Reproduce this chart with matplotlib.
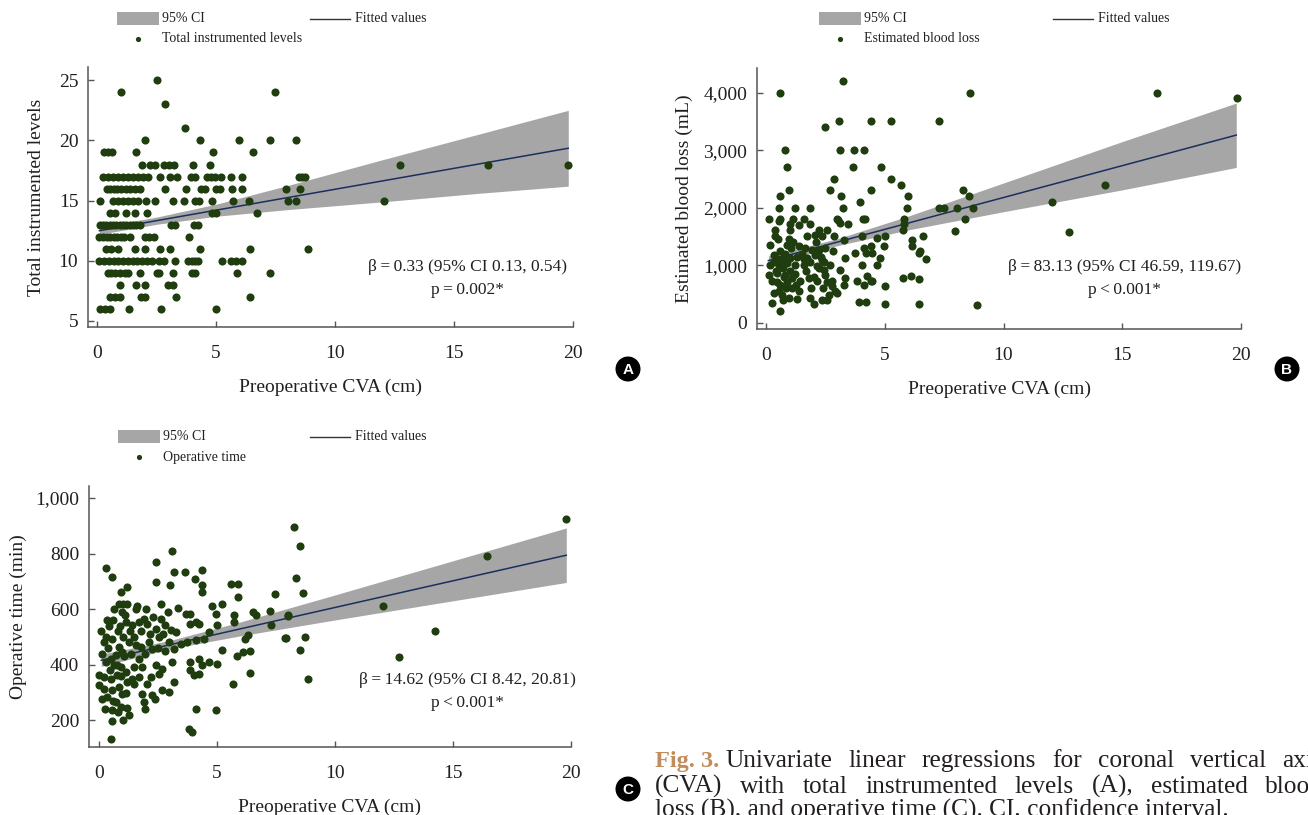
#!/usr/bin/env python3
# Univariate linear regressions of preoperative CVA (three panels + caption)

import numpy as np
import matplotlib.pyplot as plt
from matplotlib.patches import Rectangle, Circle

plt.rcParams['font.family'] = ['Liberation Serif', 'DejaVu Serif']

DOT = '#1f3d0f'
BAND = '#a6a6a6'
LINE = '#1b2f5e'
AXC = '#555555'
TXT = '#231f20'

# ---- Panel A: total instrumented levels (x = CVA cm, grouped by level) ----
a_levels = {
    25: [2.5],
    24: [1.02, 7.46],
    23: [2.84],
    21: [3.68],
    20: [2.0, 4.31, 5.95, 7.26, 8.38],
    19: [0.28, 0.45, 0.62, 1.63, 4.86, 6.57],
    18: [1.87, 2.22, 2.42, 2.82, 3.03, 3.24, 4.03, 4.76, 12.73, 16.43, 19.77],
    17: [0.25, 0.46, 0.67, 0.88, 1.09, 1.30, 1.51, 1.72, 1.93, 2.14, 2.63, 3.05,
         3.38, 3.94, 4.13, 4.61, 4.80, 4.97, 5.2, 5.62, 6.09, 8.5, 8.62, 8.75],
    16: [0.4, 0.55, 0.7, 0.85, 1.0, 1.2, 1.4, 1.6, 1.8, 2.84, 3.75, 4.36, 4.55,
         4.99, 5.18, 5.69, 6.09, 7.95, 8.53],
    15: [0.11, 0.67, 0.88, 1.09, 1.30, 1.51, 1.72, 2.07, 2.42, 3.19, 3.64, 4.1,
         4.29, 4.83, 5.71, 6.39, 8.02, 8.38, 12.04],
    14: [0.53, 0.74, 1.23, 1.61, 2.11, 4.83, 5.0, 6.72],
    13: [0.11, 0.25, 0.39, 0.53, 0.67, 0.81, 0.95, 1.09, 1.23, 1.37, 1.51, 1.65,
         1.79, 3.12, 3.27, 4.08, 4.24],
    12: [0.1, 0.25, 0.4, 0.55, 0.7, 0.85, 1.0, 1.15, 1.37, 2.0, 2.2, 2.4, 3.87],
    11: [0.39, 0.6, 0.88, 1.61, 2.0, 2.63, 3.05, 4.33, 6.41, 8.86],
    10: [0.1, 0.3, 0.5, 0.7, 0.9, 1.1, 1.3, 1.5, 1.7, 1.9, 2.1, 2.3, 2.6, 2.8,
         3.29, 3.82, 3.97, 4.1, 4.24, 5.27, 5.64, 5.85, 6.1],
    9: [0.46, 0.6, 0.74, 0.95, 1.16, 1.30, 1.82, 2.53, 2.62, 3.2, 3.97, 4.1, 5.9, 7.26],
    8: [0.98, 1.65, 2.0, 2.98, 3.2],
    7: [0.53, 0.74, 0.95, 1.86, 2.0, 3.33, 6.41],
    6: [0.11, 0.32, 0.53, 1.33, 2.7, 5.0],
}
a_x = [x for lvl, xs in a_levels.items() for x in xs]
a_y = [lvl for lvl, xs in a_levels.items() for x in xs]
a_fit_x = [0.1, 19.8]
a_fit_y = [12.5, 19.35]
a_ci_x = [0.1, 2.5, 5, 8, 12, 16, 19.8]
a_ci_lo = [12.2, 13.03, 13.7, 14.25, 14.9, 15.6, 16.2]
a_ci_hi = [12.8, 13.63, 14.7, 16.25, 18.4, 20.5, 22.5]

# ---- Panel B: estimated blood loss (mL) ----
b_pts = [
    (0.6, 4000), (3.24, 4200), (2.47, 3410), (3.06, 3500), (4.44, 3500), (5.27, 3500), (7.28, 3500),
    (0.79, 3000), (3.13, 3000), (3.69, 3000), (4.12, 3000),
    (0.88, 2700), (3.67, 2700), (4.85, 2700), (2.85, 2500), (5.27, 2500), (5.69, 2400),
    (0.96, 2300), (2.71, 2300), (4.44, 2300), (3.17, 2200), (0.6, 2200), (5.97, 2200), (3.97, 2100),
    (0.53, 2000), (1.24, 2000), (1.84, 2000), (3.24, 2000), (5.94, 2000),
    (7.28, 2000), (7.5, 2000), (8.03, 2000), (8.73, 2000), (8.31, 2300), (8.55, 2200),
    (8.59, 4000), (8.38, 1800), (7.96, 1600), (8.87, 300),
    (12.06, 2100), (12.76, 1580), (14.28, 2400), (16.46, 4000), (19.83, 3900),
    (0.11, 1800), (0.6, 1800), (1.15, 1800), (1.59, 1800), (2.99, 1800), (3.05, 1790),
    (4.09, 1800), (4.15, 1800), (5.8, 1800),
    (0.53, 1760), (1.03, 1710), (1.38, 1700), (1.87, 1710), (2.22, 1615), (2.57, 1615),
    (3.1, 1730), (3.44, 1710), (1.03, 1615), (0.39, 1615), (5.76, 1615), (5.81, 1713),
    (0.39, 1500), (1.73, 1500), (2.08, 1530), (2.36, 1500), (2.88, 1500), (3.3, 1440),
    (4.04, 1500), (4.68, 1470), (5.03, 1500), (6.15, 1440), (6.6, 1500),
    (0.18, 1355), (0.88, 1355), (1.38, 1330), (1.66, 1300), (1.94, 1270), (2.22, 1270),
    (2.5, 1300), (2.82, 1240), (4.12, 1300), (4.4, 1330), (4.96, 1330), (6.15, 1330), (6.5, 1240),
    (0.32, 1180), (0.74, 1150), (1.03, 1120), (1.31, 1150), (1.73, 1120), (2.08, 1180),
    (2.36, 1090), (3.34, 1120), (3.76, 1210), (4.19, 1210), (4.47, 1210), (4.82, 1120),
    (0.15, 1000), (0.53, 1000), (0.88, 1040), (1.24, 1000), (1.59, 1000), (2.15, 980),
    (2.43, 920), (3.13, 920), (4.04, 1000), (4.68, 1000), (6.43, 1210), (6.74, 1110),
    (0.11, 830), (0.46, 860), (0.81, 830), (1.1, 780), (1.45, 720), (1.8, 776), (2.15, 720),
    (2.5, 830), (2.78, 720), (3.34, 776), (3.83, 720), (4.26, 805), (4.47, 720), (5.03, 630),
    (5.76, 776), (6.11, 816), (6.46, 764), (0.25, 720), (0.6, 660), (2.78, 640), (4.12, 660), (4.4, 720),
    (0.32, 515), (0.67, 486), (0.96, 428), (1.31, 417), (1.87, 428), (2.0, 324), (2.36, 400),
    (2.57, 400), (2.99, 515), (2.64, 486), (3.9, 359), (4.19, 359), (5.03, 324), (6.46, 324),
    (0.58, 208), (0.25, 341), (2.92, 550), (3.27, 660),
    (0.4, 900), (0.5, 1100), (0.6, 1250), (0.7, 950), (0.75, 800), (0.8, 1200), (0.85, 600),
    (0.9, 700), (1.0, 900), (1.05, 1300), (1.1, 600), (1.2, 850), (0.45, 700), (0.55, 550),
    (0.65, 1050), (0.7, 400), (0.35, 1050), (0.5, 1450), (0.95, 1450), (1.15, 1400),
    (1.5, 1200), (1.6, 1100), (1.7, 900), (1.85, 1050), (1.9, 600), (2.0, 800), (2.1, 1400),
    (2.25, 950), (2.3, 1150), (2.45, 1050), (2.55, 700), (2.7, 1000), (2.4, 600), (1.4, 550),
    (1.25, 650),
]
b_x = [p[0] for p in b_pts]
b_y = [p[1] for p in b_pts]
b_fit_x = [0.1, 19.8]
b_fit_y = [1080, 3263]
b_ci_x = [0.1, 3, 6, 10, 15, 19.8]
b_ci_lo = [1000, 1340, 1615, 1930, 2310, 2700]
b_ci_hi = [1160, 1460, 1855, 2430, 3150, 3820]

# ---- Panel C: operative time (min) ----
c_pts = [
    (3.08, 809), (0.28, 747), (0.56, 717), (2.43, 768), (3.18, 732), (3.64, 732), (4.38, 739),
    (2.4, 698), (3.0, 686), (4.07, 707), (4.35, 686), (4.38, 660), (0.93, 662), (1.2, 680),
    (5.58, 692), (5.89, 692), (5.89, 644), (7.44, 653),
    (0.85, 620), (1.02, 620), (1.2, 620), (1.55, 602), (0.99, 590), (2.61, 617), (2.94, 590),
    (3.36, 605), (3.67, 584), (3.84, 584), (4.8, 612), (5.2, 620), (4.94, 584), (5.72, 578),
    (6.54, 590), (7.25, 593), (8.0, 576), (7.9, 497),
    (0.07, 521), (0.35, 560), (0.21, 482), (0.42, 540), (1.13, 554), (1.41, 542), (1.7, 554),
    (1.91, 566), (2.05, 548), (2.4, 530), (2.61, 566), (2.82, 542), (3.04, 524), (3.25, 518),
    (3.88, 548), (4.1, 554), (4.24, 545), (4.66, 518), (5.01, 542), (5.72, 554), (6.21, 494),
    (6.33, 506), (7.27, 542), (6.64, 578),
    (0.56, 494), (0.85, 464), (0.71, 434), (0.99, 446), (1.27, 482), (1.48, 500), (1.77, 464),
    (2.12, 482), (2.26, 458), (2.54, 500), (2.97, 482), (3.18, 458), (3.46, 476), (3.74, 482),
    (4.12, 488), (4.45, 494),
    (0.28, 410), (0.64, 398), (0.92, 392), (1.13, 374), (1.48, 392), (1.7, 420), (1.84, 392),
    (2.4, 398), (2.68, 386), (3.11, 410), (3.88, 410), (4.24, 422), (4.38, 398), (4.66, 410),
    (5.01, 404), (5.23, 452), (5.83, 432), (6.1, 446), (6.38, 450), (6.38, 371),
    (0.0, 362), (0.21, 356), (0.5, 350), (0.78, 362), (1.41, 350), (1.7, 356), (2.19, 356),
    (2.54, 368), (3.18, 338), (3.88, 380), (4.03, 362), (4.24, 368), (5.68, 330),
    (0.0, 326), (0.21, 314), (0.56, 308), (0.85, 320), (0.99, 296), (1.2, 338), (1.84, 296),
    (1.91, 266), (2.66, 308), (2.97, 302), (2.36, 278),
    (0.11, 278), (0.35, 284), (0.71, 266), (0.25, 240), (0.56, 236), (0.92, 248), (1.2, 244),
    (1.27, 220), (1.95, 242), (4.1, 242), (4.94, 236), (0.56, 196), (0.52, 131), (3.81, 170),
    (3.95, 158),
    (8.28, 894), (8.52, 827), (8.35, 713), (8.63, 657), (8.02, 578), (7.92, 497), (8.73, 498),
    (8.52, 452), (8.84, 350), (12.02, 612), (14.24, 522), (12.71, 428), (16.43, 792), (19.79, 924),
    (0.4, 460), (0.5, 420), (0.6, 560), (0.65, 600), (0.8, 520), (0.9, 540), (1.0, 500),
    (1.05, 430), (1.1, 580), (1.3, 520), (1.35, 440), (1.55, 470), (1.6, 610), (1.8, 520),
    (1.95, 440), (2.0, 600), (2.15, 510), (2.3, 570), (2.5, 460), (2.7, 510), (2.8, 450),
    (0.3, 500), (0.45, 380), (0.75, 400), (0.95, 360), (1.15, 300), (1.5, 330), (2.05, 330),
    (2.25, 290), (0.15, 440), (0.6, 270), (0.8, 230), (1.0, 200),
]
c_x = [p[0] for p in c_pts]
c_y = [p[1] for p in c_pts]
c_fit_x = [0.1, 19.8]
c_fit_y = [416, 794]
c_ci_x = [0.1, 3, 6, 10, 15, 19.8]
c_ci_lo = [394, 457, 504, 561, 630, 696]
c_ci_hi = [438, 487, 554, 651, 774, 892]

x_ticks = [0, 5, 10, 15, 20]

caption_head = 'Fig. 3.'
caption_lines = [
    'Univariate linear regressions for coronal vertical axis',
    '(CVA) with total instrumented levels (A), estimated blood',
    'loss (B), and operative time (C). CI, confidence interval.',
]

W, H = 1308, 815
fig = plt.figure(figsize=(W / 100, H / 100), dpi=100)


def axes_px(left, top, right, bottom):
    return fig.add_axes([left / W, 1 - bottom / H, (right - left) / W, (bottom - top) / H])


def panel(ax, xs, ys, fx, fy, cx, clo, chi, xlim, ylim, yticks, ylabels, ylabel, notes, note_xy):
    ax.fill_between(cx, clo, chi, color=BAND, lw=0, zorder=1)
    ax.plot(fx, fy, color=LINE, lw=1.1, zorder=2)
    ax.scatter(xs, ys, s=34, color=DOT, lw=0, zorder=3, clip_on=False)
    ax.set_xlim(*xlim)
    ax.set_ylim(*ylim)
    ax.set_xticks(x_ticks)
    ax.set_yticks(yticks)
    ax.set_yticklabels(ylabels)
    for s in ['top', 'right']:
        ax.spines[s].set_visible(False)
    for s in ['left', 'bottom']:
        ax.spines[s].set_color(AXC)
        ax.spines[s].set_linewidth(1.1)
    ax.tick_params(axis='both', direction='in', length=4, width=1, color=AXC,
                   labelsize=14, labelcolor=TXT)
    ax.tick_params(axis='x', pad=13)
    ax.tick_params(axis='y', pad=7)
    ax.set_xlabel('Preoperative CVA (cm)', fontsize=14, color=TXT)
    ax.xaxis.set_label_coords(0.5, -0.198)
    ax.set_ylabel(ylabel, fontsize=14, color=TXT)
    ax.patch.set_alpha(0)
    ax.text(note_xy[0], note_xy[1], notes[0], transform=ax.transAxes, ha='center',
            va='center', fontsize=12.5, color=TXT)
    ax.text(note_xy[0], note_xy[1] - 0.088, notes[1], transform=ax.transAxes, ha='center',
            va='center', fontsize=12.5, color=TXT)


axA = axes_px(88, 67, 573, 327)
panel(axA, a_x, a_y, a_fit_x, a_fit_y, a_ci_x, a_ci_lo, a_ci_hi, (-0.38, 20), (4.5, 26.1),
      [5, 10, 15, 20, 25], ['5', '10', '15', '20', '25'], 'Total instrumented levels',
      ['β\u2009=\u20090.33 (95% CI 0.13, 0.54)', 'p\u2009=\u20090.002*'], (0.783, 0.231))
axA.yaxis.set_label_coords(-0.089, 0.5)

axB = axes_px(757, 68, 1241, 329)
panel(axB, b_x, b_y, b_fit_x, b_fit_y, b_ci_x, b_ci_lo, b_ci_hi, (-0.38, 20), (-110, 4430),
      [0, 1000, 2000, 3000, 4000], ['0', '1,000', '2,000', '3,000', '4,000'],
      'Estimated blood loss (mL)',
      ['β\u2009=\u200983.13 (95% CI 46.59, 119.67)', 'p\u2009<\u20090.001*'], (0.760, 0.2375))
axB.yaxis.set_label_coords(-0.132, 0.5)

axC = axes_px(89, 486, 571, 747)
panel(axC, c_x, c_y, c_fit_x, c_fit_y, c_ci_x, c_ci_lo, c_ci_hi, (-0.42, 20), (104, 1043),
      [200, 400, 600, 800, 1000], ['200', '400', '600', '800', '1,000'], 'Operative time (min)',
      ['β\u2009=\u200914.62 (95% CI 8.42, 20.81)', 'p\u2009<\u20090.001*'], (0.786, 0.257))
axC.yaxis.set_label_coords(-0.129, 0.5)

# overlay in pixel coordinates for legends, panel letters and caption
ov = fig.add_axes([0, 0, 1, 1])
ov.set_xlim(0, W)
ov.set_ylim(H, 0)
ov.axis('off')
ov.patch.set_alpha(0)


def legend(rect_x, rect_y, line_x, label):
    ov.add_patch(Rectangle((rect_x, rect_y), 42, 13, color=BAND, lw=0))
    ov.text(rect_x + 45, rect_y + 6.5, '95% CI', fontsize=10, va='center', ha='left', color=TXT)
    ov.plot([line_x, line_x + 40], [rect_y + 7, rect_y + 7], color='#333333', lw=1)
    ov.text(line_x + 45, rect_y + 6.5, 'Fitted values', fontsize=10, va='center', ha='left', color=TXT)
    ov.scatter([rect_x + 21], [rect_y + 27], s=14, color=DOT, lw=0)
    ov.text(rect_x + 45, rect_y + 27, label, fontsize=10, va='center', ha='left', color=TXT)


legend(117, 12, 310, 'Total instrumented levels')
legend(819, 12, 1053, 'Estimated blood loss')
legend(118, 430, 310, 'Operative time')

for cx, cy, letter in [(628, 369, 'A'), (1287, 369, 'B'), (628, 789, 'C')]:
    ov.add_patch(Circle((cx, cy), 12.5, color='black', lw=0))
    ov.text(cx, cy + 0.5, letter, fontsize=11, fontweight='bold', color='white', ha='center',
            va='center', family=['Liberation Sans', 'DejaVu Sans'])

# caption: first two lines justified to a column wider than the image, last line flush left
renderer = fig.canvas.get_renderer()
CAP_X, CAP_R, CAP_SIZE = 655, 1323, 18.3
head = ov.text(CAP_X, 767, caption_head, fontsize=17.5, fontweight='bold', color='#c28c5c',
               ha='left', va='baseline')
head_end = CAP_X + head.get_window_extent(renderer).width
starts = [head_end + 6, CAP_X, CAP_X]
for i, (line, base) in enumerate(zip(caption_lines, [767, 793, 817])):
    if i == len(caption_lines) - 1:
        ov.text(starts[i], base, line, fontsize=CAP_SIZE, color=TXT, ha='left', va='baseline')
        continue
    words = line.split(' ')
    texts = [ov.text(0, base, w, fontsize=CAP_SIZE, ha='left', va='baseline', color=TXT)
             for w in words]
    widths = [t.get_window_extent(renderer).width for t in texts]
    gap = (CAP_R - starts[i] - sum(widths)) / (len(words) - 1)
    x = starts[i]
    for t, wd in zip(texts, widths):
        t.set_x(x)
        x += wd + gap

fig.savefig('out.png', dpi=100)
